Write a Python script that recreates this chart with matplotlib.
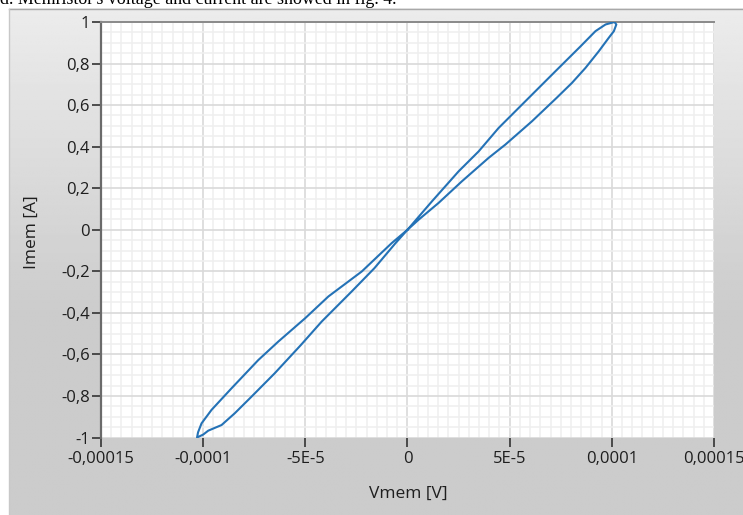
import matplotlib
matplotlib.use("Agg")
import matplotlib.pyplot as plt
import numpy as np
from matplotlib.ticker import FixedLocator, MultipleLocator

# ---------------- data ----------------
# loop, in order of travel: origin -> top tip -> origin -> bottom tip -> origin
q1_up_v = [0.0, 1.19e-5, 2.50e-5, 3.48e-5, 4.46e-5, 5.60e-5, 7.24e-5, 8.47e-5, 9.20e-5, 9.69e-5, 1.013e-4]
q1_up_i = [0.0, 0.136, 0.281, 0.377, 0.490, 0.602, 0.763, 0.883, 0.956, 0.988, 1.0]
q1_dn_v = [1.022e-4, 1.010e-4, 9.85e-5, 9.36e-5, 8.71e-5, 8.05e-5, 7.30e-5, 6.09e-5, 4.79e-5, 3.97e-5, 2.66e-5, 1.52e-5, 5.4e-6, 0.0]
q1_dn_i = [0.988, 0.956, 0.924, 0.859, 0.779, 0.707, 0.635, 0.522, 0.410, 0.346, 0.233, 0.129, 0.048, 0.0]
q3_dn_v = [-7.7e-6, -2.24e-5, -3.87e-5, -5.01e-5, -6.32e-5, -7.30e-5, -8.61e-5, -9.59e-5, -1.008e-4, -1.025e-4, -1.030e-4]
q3_dn_i = [-0.064, -0.201, -0.321, -0.426, -0.538, -0.627, -0.763, -0.867, -0.932, -0.975, -1.0]
q3_up_v = [-1.000e-4, -9.75e-5, -9.10e-5, -8.45e-5, -7.63e-5, -6.50e-5, -5.22e-5, -4.20e-5, -2.73e-5, -1.62e-5, -6.0e-6, 0.0]
q3_up_i = [-0.986, -0.967, -0.940, -0.883, -0.803, -0.691, -0.555, -0.442, -0.297, -0.185, -0.066, 0.0]

x_ticks = [-0.00015, -0.0001, -5e-5, 0.0, 5e-5, 0.0001, 0.00015]
x_tick_labels = ["-0,00015", "-0,0001", "-5E-5", "0", "5E-5", "0,0001", "0,00015"]
y_ticks = [-1.0, -0.8, -0.6, -0.4, -0.2, 0.0, 0.2, 0.4, 0.6, 0.8, 1.0]
y_tick_labels = ["-1", "-0,8", "-0,6", "-0,4", "-0,2", "0", "0,2", "0,4", "0,6", "0,8", "1"]

x_label = "Vmem [V]"
y_label = "Imem [A]"
caption = "d. Memristor's voltage and current are showed in fig. 4."

# ---------------- figure ----------------
W, H = 743, 515
fig = plt.figure(figsize=(W / 100, H / 100), dpi=100)
fig.patch.set_facecolor("white")

# background panel (pixel coordinates)
bg = fig.add_axes([0, 0, 1, 1], zorder=0)
bg.set_xlim(0, W)
bg.set_ylim(H, 0)
bg.axis("off")
ny = 256
t = np.linspace(0, 1, ny)
top_c, bot_c = 0.925, 0.80
vals = np.where(t < 0.6, top_c + (bot_c - top_c) * (t / 0.6), bot_c)
grad = np.tile(vals[:, None], (1, 4))
bg.imshow(grad, cmap="gray", vmin=0, vmax=1, extent=[9, W, H, 8],
          aspect="auto", interpolation="bilinear", zorder=0)
bg.plot([9, W], [8.5, 8.5], color="#a8a8a8", lw=1.0, zorder=1)
bg.plot([9, 9], [8.5, H], color="#c8c8c8", lw=1.0, zorder=1)
bg.text(396, 4.5, caption, ha="right", va="baseline",
        family="Liberation Serif", fontsize=12.9, color="black", zorder=2)

# main plot area
left, right, top, bottom = 101, 714, 22, 437.5
ax = fig.add_axes([left / W, 1 - bottom / H, (right - left) / W, (bottom - top) / H], zorder=1)
ax.set_facecolor("white")

v = q1_up_v + q1_dn_v + q3_dn_v + q3_up_v
i = q1_up_i + q1_dn_i + q3_dn_i + q3_up_i
ax.plot(v, i, color="#2472b6", lw=1.5, solid_joinstyle="round", zorder=3)

ax.set_xlim(-0.00015, 0.00015)
ax.set_ylim(-1, 1)
ax.xaxis.set_major_locator(FixedLocator(x_ticks))
ax.set_xticklabels(x_tick_labels)
ax.yaxis.set_major_locator(FixedLocator(y_ticks))
ax.set_yticklabels(y_tick_labels)
ax.xaxis.set_minor_locator(MultipleLocator(5e-6))
ax.yaxis.set_minor_locator(MultipleLocator(0.05))

ax.grid(which="minor", color="#efefef", lw=1.1, zorder=0)
ax.grid(which="major", color="#d9d9d9", lw=1.2, zorder=1)
ax.set_axisbelow(True)

for s in ["right", "bottom"]:
    ax.spines[s].set_visible(False)
ax.spines["left"].set_color("#6a6a6a")
ax.spines["left"].set_linewidth(1.6)
ax.spines["top"].set_color("#8a8a8a")
ax.spines["top"].set_linewidth(1.4)

ax.tick_params(axis="both", which="minor", length=0)
ax.tick_params(axis="both", which="major", direction="out", length=6.5, width=1.2,
               color="#333333", labelcolor="#1e1e1e", labelsize=12)
ax.tick_params(axis="x", pad=3)
ax.tick_params(axis="y", pad=1.5)
for lab in ax.get_xticklabels() + ax.get_yticklabels():
    lab.set_family("Open Sans")

fig.text(408 / W, 1 - 494 / H, x_label, ha="center", va="center",
         fontsize=12.5, color="#1e1e1e", family="Open Sans")
fig.text(32 / W, 1 - 232 / H, y_label, ha="center", va="center", rotation=90,
         fontsize=12.5, color="#1e1e1e", family="Open Sans")

fig.savefig("out.png", dpi=100, facecolor=fig.get_facecolor())
